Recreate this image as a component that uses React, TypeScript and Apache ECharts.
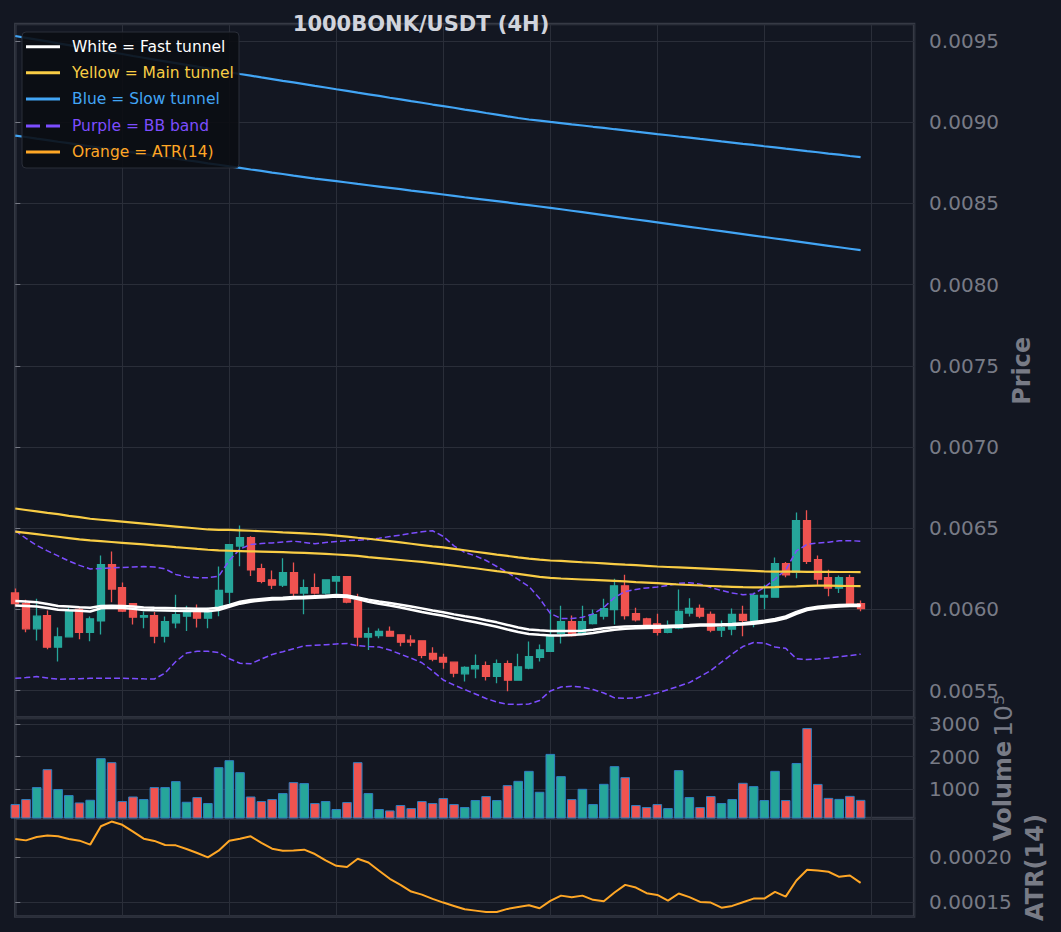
import React, { useEffect, useRef } from "react";
import * as echarts from "echarts";

// ---------- data ----------
const opens = [
  0.006101, 0.006035, 0.00588, 0.005961, 0.005767, 0.005831, 0.005999, 0.005859, 0.00593, 0.006275,
  0.006133, 0.006035, 0.005952, 0.005961, 0.005835, 0.005917, 0.005958, 0.005987, 0.005946, 0.006004,
  0.006106, 0.00639, 0.006441, 0.00625, 0.006182, 0.006149, 0.006226, 0.0061, 0.006133, 0.0061,
  0.006174, 0.006201, 0.006055, 0.005829, 0.005839, 0.005864, 0.005843, 0.00581, 0.005806, 0.005728,
  0.005704, 0.005675, 0.005603, 0.005634, 0.005654, 0.005588, 0.005665, 0.005564, 0.005638, 0.005705,
  0.005742, 0.005853, 0.005924, 0.005853, 0.005913, 0.005958, 0.005998, 0.006145, 0.005973, 0.005942,
  0.005911, 0.005859, 0.005884, 0.005977, 0.006006, 0.005969, 0.005872, 0.005878, 0.005969, 0.005933,
  0.006075, 0.006075, 0.006281, 0.006229, 0.006546, 0.006306, 0.006195, 0.006131, 0.006195, 0.006035,
];
const closes = [
  0.006036, 0.00588, 0.005958, 0.005767, 0.005831, 0.005993, 0.005859, 0.005942, 0.006275, 0.006125,
  0.005989, 0.005952, 0.005962, 0.005835, 0.005924, 0.005967, 0.005987, 0.005946, 0.005987, 0.006116,
  0.006398, 0.006441, 0.006244, 0.006172, 0.006149, 0.006226, 0.0061, 0.006133, 0.0061, 0.006182,
  0.006201, 0.006044, 0.005829, 0.00585, 0.005864, 0.005835, 0.005798, 0.005798, 0.005716, 0.005693,
  0.005675, 0.005607, 0.005642, 0.005654, 0.005588, 0.005665, 0.005564, 0.005646, 0.005708, 0.005751,
  0.005839, 0.005924, 0.005839, 0.005924, 0.005967, 0.006004, 0.006145, 0.005962, 0.005936, 0.005907,
  0.005859, 0.00588, 0.005987, 0.006006, 0.005958, 0.005872, 0.005888, 0.005969, 0.005933, 0.006086,
  0.006086, 0.006281, 0.006213, 0.006546, 0.006295, 0.006186, 0.006131, 0.006195, 0.00603, 0.006004,
];
const highs = [
  0.006129, 0.006059, 0.006065, 0.005993, 0.005888, 0.006012, 0.00601, 0.005956, 0.006332, 0.006357,
  0.006166, 0.006035, 0.005987, 0.005983, 0.005956, 0.00609, 0.006022, 0.00603, 0.00601, 0.006264,
  0.0064, 0.006517, 0.006451, 0.006281, 0.00624, 0.006314, 0.006289, 0.006184, 0.006221, 0.006182,
  0.006207, 0.006201, 0.006096, 0.005888, 0.005882, 0.005895, 0.005845, 0.005841, 0.005808, 0.005767,
  0.005726, 0.005675, 0.00565, 0.005722, 0.005679, 0.005691, 0.005685, 0.005726, 0.005802, 0.005784,
  0.005999, 0.006022, 0.005962, 0.006022, 0.005999, 0.006065, 0.006189, 0.006213, 0.00601, 0.005948,
  0.005973, 0.005932, 0.006123, 0.006069, 0.00603, 0.005987, 0.005932, 0.006006, 0.006022, 0.006102,
  0.006152, 0.00632, 0.006291, 0.006597, 0.00661, 0.006332, 0.006244, 0.006209, 0.006213, 0.006055,
];
const lows = [
  0.006018, 0.005859, 0.005808, 0.005755, 0.005679, 0.005831, 0.005816, 0.005804, 0.005845, 0.006044,
  0.005983, 0.005907, 0.005884, 0.005792, 0.005796, 0.005884, 0.005866, 0.005888, 0.005884, 0.005958,
  0.006035, 0.006266, 0.006205, 0.006161, 0.006125, 0.006137, 0.006075, 0.00597, 0.006092, 0.006092,
  0.006096, 0.006038, 0.005773, 0.005749, 0.005822, 0.005835, 0.005773, 0.005773, 0.005699, 0.005681,
  0.005634, 0.005582, 0.005556, 0.005576, 0.005562, 0.005545, 0.005496, 0.005564, 0.005631, 0.005679,
  0.005742, 0.00579, 0.005833, 0.005853, 0.005907, 0.005938, 0.005907, 0.005938, 0.005925, 0.005895,
  0.005839, 0.005853, 0.005878, 0.005956, 0.005946, 0.005859, 0.005829, 0.005841, 0.005835, 0.00589,
  0.006001, 0.006073, 0.006198, 0.006192, 0.006279, 0.006152, 0.006081, 0.0061, 0.00603, 0.005989,
];
const volumes = [
  538, 692, 1062, 1615, 1000, 815, 588, 671, 1954, 1831,
  631, 772, 692, 1062, 1062, 1246, 609, 754, 569, 1677,
  1892, 1523, 772, 631, 692, 877, 1215, 1185, 569, 631,
  385, 600, 1831, 877, 385, 342, 508, 415, 631, 569,
  723, 538, 446, 662, 785, 662, 1123, 1255, 1563, 917,
  2086, 1400, 692, 1009, 538, 1163, 1708, 1369, 508, 446,
  538, 415, 1585, 754, 446, 785, 569, 692, 1194, 1092,
  662, 1563, 662, 1806, 2883, 1160, 729, 698, 791, 668,
];
const fastUpper = [
  0.006051, 0.006048, 0.006044, 0.006033, 0.006021, 0.006017, 0.006013, 0.00601, 0.006021, 0.006022,
  0.00602, 0.006017, 0.006012, 0.00601, 0.006009, 0.006007, 0.006006, 0.006004, 0.006004, 0.00601,
  0.006027, 0.006047, 0.006058, 0.006064, 0.00607, 0.006072, 0.006076, 0.006078, 0.006081, 0.006084,
  0.006088, 0.006086, 0.006073, 0.00606, 0.006049, 0.006039, 0.006029, 0.006018, 0.006006, 0.005993,
  0.005982, 0.005969, 0.005957, 0.005947, 0.005933, 0.00592, 0.005904, 0.005888, 0.005876, 0.005871,
  0.005867, 0.005866, 0.005866, 0.005869, 0.005874, 0.005884, 0.00589, 0.005895, 0.005896, 0.005897,
  0.005898, 0.005899, 0.005901, 0.005903, 0.005906, 0.005907, 0.005908, 0.00591, 0.005914, 0.005922,
  0.00593, 0.005941, 0.005956, 0.005984, 0.006006, 0.006016, 0.006022, 0.006027, 0.006028, 0.006028,
];
const fastLower = [
  0.006023, 0.006021, 0.006018, 0.006009, 0.005998, 0.005994, 0.005991, 0.005987, 0.006007, 0.00601,
  0.006008, 0.006003, 0.005996, 0.005994, 0.005993, 0.005991, 0.00599, 0.00599, 0.005989, 0.005996,
  0.006015, 0.006035, 0.006047, 0.006055, 0.006061, 0.006063, 0.006067, 0.006069, 0.006071, 0.006075,
  0.006079, 0.006076, 0.006063, 0.006047, 0.006035, 0.006024, 0.006012, 0.005998, 0.005984, 0.005971,
  0.005961, 0.005946, 0.005933, 0.005921, 0.005907, 0.005893, 0.005876, 0.005861, 0.005848, 0.005843,
  0.005839, 0.005839, 0.005842, 0.005847, 0.005855, 0.005865, 0.005874, 0.00588, 0.005884, 0.005885,
  0.005887, 0.00589, 0.005893, 0.005896, 0.0059, 0.005901, 0.005902, 0.005903, 0.005907, 0.005912,
  0.00592, 0.00593, 0.005945, 0.005973, 0.005996, 0.006007, 0.006013, 0.006017, 0.00602, 0.00602,
];
const mainUpper = [
  0.006621, 0.006612, 0.006603, 0.006594, 0.006586, 0.006576, 0.006568, 0.006558, 0.006552, 0.006546,
  0.00654, 0.006534, 0.006528, 0.006522, 0.006516, 0.00651, 0.006504, 0.006498, 0.006492, 0.00649,
  0.006489, 0.006487, 0.006484, 0.006481, 0.006478, 0.006474, 0.006471, 0.006468, 0.006464, 0.00646,
  0.006454, 0.006448, 0.006441, 0.006435, 0.006427, 0.00642, 0.006412, 0.006404, 0.006396, 0.006388,
  0.006382, 0.006373, 0.006364, 0.006355, 0.006346, 0.006337, 0.006329, 0.00632, 0.006312, 0.006306,
  0.006301, 0.006298, 0.006294, 0.00629, 0.006287, 0.006283, 0.006279, 0.006275, 0.006272, 0.006268,
  0.006264, 0.006261, 0.006258, 0.006255, 0.006252, 0.006249, 0.006246, 0.006243, 0.00624, 0.006237,
  0.006234, 0.006233, 0.006232, 0.006232, 0.006231, 0.006231, 0.006231, 0.00623, 0.00623, 0.006229,
];
const mainLower = [
  0.006479, 0.006471, 0.006463, 0.006455, 0.006447, 0.006439, 0.006431, 0.006425, 0.00642, 0.006415,
  0.00641, 0.006405, 0.0064, 0.006394, 0.006389, 0.006383, 0.006378, 0.006372, 0.006367, 0.006363,
  0.006361, 0.006359, 0.006357, 0.006356, 0.006354, 0.006352, 0.00635, 0.006348, 0.006345, 0.006342,
  0.006338, 0.006334, 0.006329, 0.006322, 0.006316, 0.00631, 0.006304, 0.006298, 0.006292, 0.006285,
  0.006277, 0.006269, 0.006261, 0.006253, 0.006244, 0.006235, 0.006227, 0.006218, 0.006209, 0.0062,
  0.006194, 0.00619, 0.006187, 0.006184, 0.006181, 0.006178, 0.006175, 0.006172, 0.006168, 0.006165,
  0.006161, 0.006157, 0.006153, 0.00615, 0.006147, 0.006144, 0.006141, 0.006139, 0.006137, 0.006136,
  0.006136, 0.006137, 0.00614, 0.006142, 0.006145, 0.006146, 0.006146, 0.006145, 0.006144, 0.006143,
];
const slowUpper = [
  0.009531, 0.00952, 0.009509, 0.009498, 0.009486, 0.009475, 0.009464, 0.009453, 0.009442, 0.009431,
  0.00942, 0.009408, 0.009397, 0.009386, 0.009375, 0.009364, 0.009353, 0.009342, 0.009331, 0.009319,
  0.009308, 0.009297, 0.009287, 0.009276, 0.009266, 0.009255, 0.009245, 0.009235, 0.009224, 0.009214,
  0.009203, 0.009193, 0.009182, 0.009172, 0.009162, 0.009151, 0.009141, 0.00913, 0.00912, 0.009109,
  0.009099, 0.009089, 0.009078, 0.009068, 0.009057, 0.009047, 0.009036, 0.009026, 0.009017, 0.00901,
  0.009002, 0.008995, 0.008987, 0.00898, 0.008972, 0.008965, 0.008957, 0.00895, 0.008942, 0.008935,
  0.008927, 0.00892, 0.008912, 0.008905, 0.008897, 0.00889, 0.008882, 0.008875, 0.008867, 0.00886,
  0.008852, 0.008845, 0.008837, 0.00883, 0.008822, 0.008815, 0.008807, 0.0088, 0.008792, 0.008785,
];
const slowLower = [
  0.008918, 0.008909, 0.008899, 0.00889, 0.00888, 0.008871, 0.008861, 0.008852, 0.008842, 0.008833,
  0.008823, 0.008814, 0.008804, 0.008795, 0.008785, 0.008776, 0.008766, 0.008757, 0.008747, 0.008738,
  0.008728, 0.008719, 0.008709, 0.0087, 0.00869, 0.008681, 0.008671, 0.008662, 0.008653, 0.008645,
  0.008637, 0.008629, 0.00862, 0.008612, 0.008604, 0.008596, 0.008588, 0.008579, 0.008571, 0.008563,
  0.008555, 0.008547, 0.008538, 0.00853, 0.008522, 0.008514, 0.008506, 0.008497, 0.008489, 0.008481,
  0.008473, 0.008464, 0.008455, 0.008446, 0.008437, 0.008428, 0.008419, 0.00841, 0.008401, 0.008392,
  0.008383, 0.008374, 0.008365, 0.008356, 0.008347, 0.008338, 0.008329, 0.00832, 0.008311, 0.008302,
  0.008293, 0.008284, 0.008275, 0.008266, 0.008257, 0.008248, 0.008239, 0.00823, 0.008221, 0.008212,
];
const bbUpper = [
  0.006484, 0.006437, 0.006394, 0.00636, 0.006329, 0.006298, 0.006271, 0.006249, 0.006252, 0.006255,
  0.006258, 0.006261, 0.006264, 0.006261, 0.006249, 0.006215, 0.0062, 0.006195, 0.006195, 0.006203,
  0.006301, 0.006372, 0.006399, 0.006406, 0.006409, 0.006415, 0.00642, 0.006412, 0.006404, 0.006412,
  0.006418, 0.006423, 0.006426, 0.00643, 0.006438, 0.006448, 0.006457, 0.006468, 0.006478, 0.006484,
  0.006449, 0.006391, 0.006351, 0.006329, 0.006301, 0.006264, 0.006227, 0.006184, 0.006141, 0.006067,
  0.005975, 0.005944, 0.005944, 0.005951, 0.005972, 0.006012, 0.006073, 0.00611, 0.006123, 0.006132,
  0.006138, 0.006147, 0.00616, 0.006164, 0.006155, 0.006135, 0.006116, 0.006101, 0.00609, 0.006095,
  0.006135, 0.006187, 0.006243, 0.00636, 0.0064, 0.006409, 0.006414, 0.006422, 0.006423, 0.00642,
];
const bbLower = [
  0.005575, 0.00558, 0.005586, 0.005577, 0.00557, 0.005571, 0.005573, 0.005575, 0.005576, 0.005576,
  0.005576, 0.005574, 0.005572, 0.005571, 0.005608, 0.005679, 0.005731, 0.005742, 0.005742, 0.005734,
  0.005696, 0.005668, 0.005665, 0.005694, 0.005722, 0.005739, 0.005757, 0.005775, 0.005779, 0.005782,
  0.005787, 0.00579, 0.005776, 0.005771, 0.005768, 0.00575, 0.005724, 0.005699, 0.005671, 0.00562,
  0.005565, 0.005534, 0.005506, 0.005479, 0.005451, 0.005429, 0.005416, 0.005414, 0.005417, 0.005439,
  0.005497, 0.005522, 0.005526, 0.005521, 0.005506, 0.005485, 0.005455, 0.005453, 0.005454, 0.005469,
  0.005485, 0.005505, 0.005527, 0.005549, 0.005586, 0.005623, 0.005675, 0.005725, 0.005771, 0.005796,
  0.005793, 0.005768, 0.00576, 0.005696, 0.005691, 0.005694, 0.0057, 0.005708, 0.005716, 0.005724,
];
const atr14 = [
  0.00022, 0.0002184, 0.0002222, 0.0002237, 0.0002229, 0.00022, 0.0002181, 0.0002137, 0.000234, 0.0002392,
  0.0002356, 0.0002281, 0.0002203, 0.0002178, 0.0002133, 0.0002129, 0.0002089, 0.0002044, 0.0001996, 0.000207,
  0.0002181, 0.0002203, 0.0002229, 0.0002156, 0.0002092, 0.000207, 0.0002073, 0.0002081, 0.0002033, 0.0001962,
  0.0001903, 0.0001889, 0.0001981, 0.000194, 0.0001848, 0.0001759, 0.0001692, 0.0001618, 0.0001584, 0.0001537,
  0.0001496, 0.0001459, 0.0001422, 0.0001407, 0.0001392, 0.0001392, 0.0001426, 0.0001448, 0.0001467, 0.0001433,
  0.0001514, 0.0001573, 0.0001556, 0.0001573, 0.0001526, 0.0001511, 0.0001607, 0.0001692, 0.0001662, 0.00016,
  0.0001581, 0.0001518, 0.0001596, 0.0001556, 0.0001503, 0.0001496, 0.000144, 0.0001459, 0.00015, 0.000154,
  0.000154, 0.0001614, 0.0001562, 0.000174, 0.0001859, 0.0001851, 0.0001837, 0.0001781, 0.0001796, 0.0001714,
];

const TITLE = "1000BONK/USDT (4H)";
const legendLabels = [
  "White = Fast tunnel",
  "Yellow = Main tunnel",
  "Blue = Slow tunnel",
  "Purple = BB band",
  "Orange = ATR(14)",
];

// ---------- styling ----------
const FONT = "DejaVu Sans";
const BG = "#131722";
const FRAME = "#363a45";
const GRIDLINE = "#2a2e39";
const AXIS_TXT = "#787b86";
const UP = "#26a69a";
const DOWN = "#ef5350";
const WHITE = "#ffffff";
const YELLOW = "#f9cd45";
const BLUE = "#42a5f5";
const PURPLE = "#7c4dff";
const ORANGE = "#ffa726";
const legendColors = [WHITE, YELLOW, BLUE, PURPLE, ORANGE];

const GRID_LEFT = 15.3;
const GRID_W = 898.8;

export default function App() {
  const ref = useRef<HTMLDivElement>(null);

  useEffect(() => {
    document.body.style.margin = "0";
    document.body.style.background = BG;
    const chart = echarts.init(ref.current as HTMLDivElement, null, { renderer: "svg" });

    const idx = (arr: number[]) => arr.map((v, i) => [i, v]);

    const xAxisBase = (gridIndex: number) => ({
      type: "value",
      gridIndex,
      min: 0,
      max: 84,
      interval: 10,
      axisLine: { show: false },
      axisTick: { show: false },
      axisLabel: { show: false },
      splitLine: { show: true, lineStyle: { color: GRIDLINE, width: 1 } },
    });

    const yAxisBase = (gridIndex: number, min: number, max: number, splitNumber: number, fmt: (v: number) => string) => ({
      type: "value",
      gridIndex,
      position: "right",
      min,
      max,
      splitNumber,
      axisLine: { show: false },
      axisTick: { show: true, length: 5, lineStyle: { color: AXIS_TXT, width: 1 } },
      axisLabel: {
        show: true,
        margin: 15,
        color: AXIS_TXT,
        fontSize: 20,
        fontFamily: FONT,
        showMinLabel: false,
        showMaxLabel: false,
        formatter: fmt,
      },
      splitLine: { show: true, lineStyle: { color: GRIDLINE, width: 1 } },
      nameLocation: "middle",
      nameRotate: 90,
    });

    const lineSeries = (data: number[], color: string, width: number, dashed = false, xi = 0, yi = 0) => ({
      type: "line",
      xAxisIndex: xi,
      yAxisIndex: yi,
      data: idx(data),
      showSymbol: false,
      symbol: "none",
      smooth: false,
      lineStyle: { color, width, type: dashed ? [6, 3] : "solid" },
      silent: true,
      z: 3,
    });

    const candleData = opens.map((o, i) => [i, o, closes[i], lows[i], highs[i]]);
    const volData = volumes.map((v, i) => ({
      value: [i, v],
      itemStyle: { color: closes[i] >= opens[i] ? UP : DOWN },
    }));

    const LZ = 120;
    const rowY = [14.7, 40.7, 67, 94, 120];
    const legendChildren: any[] = [
      {
        type: "rect",
        z: LZ,
        shape: { x: 0, y: 0, width: 217, height: 136, r: 4 },
        style: { fill: "rgba(11,13,19,0.9)", stroke: "#2a2e39", lineWidth: 1 },
      },
    ];
    legendLabels.forEach((label, k) => {
      legendChildren.push({
        type: "line",
        z: LZ + 1,
        shape: { x1: 4, y1: rowY[k], x2: 38, y2: rowY[k] },
        style: {
          stroke: legendColors[k],
          lineWidth: 3,
          lineDash: k === 3 ? [14, 6] : null,
        },
      });
      legendChildren.push({
        type: "text",
        z: LZ + 1,
        x: 50,
        y: rowY[k],
        style: {
          text: label,
          fill: legendColors[k],
          font: `15.5px "${FONT}"`,
          align: "left",
          verticalAlign: "middle",
          textAlign: "left",
          textVerticalAlign: "middle",
        },
      });
    });

    const option: any = {
      animation: false,
      backgroundColor: BG,
      grid: [
        { left: GRID_LEFT, top: 24, width: GRID_W, height: 693.5, show: true, borderColor: FRAME, borderWidth: 2.5, backgroundColor: "transparent" },
        { left: GRID_LEFT, top: 718, width: GRID_W, height: 100, show: true, borderColor: FRAME, borderWidth: 2.5, backgroundColor: "transparent" },
        { left: GRID_LEFT, top: 818.5, width: GRID_W, height: 98, show: true, borderColor: FRAME, borderWidth: 2.5, backgroundColor: "transparent" },
      ],
      xAxis: [xAxisBase(0), xAxisBase(1), xAxisBase(2)],
      yAxis: [
        {
          ...yAxisBase(0, 0.005334, 0.009605, 8, (v: number) => v.toFixed(4)),
          name: "Price",
          nameGap: 94,
          nameTextStyle: { color: AXIS_TXT, fontSize: 24, fontWeight: "bold", fontFamily: FONT },
        },
        {
          ...yAxisBase(1, 108, 3194, 3, (v: number) => String(Math.round(v))),
          name: "{b|Volume} {r|10⁵}",
          nameGap: 73,
          nameTextStyle: {
            color: AXIS_TXT,
            fontFamily: FONT,
            rich: {
              b: { color: AXIS_TXT, fontSize: 24, fontWeight: "bold", fontFamily: FONT },
              r: { color: AXIS_TXT, fontSize: 25, fontFamily: FONT },
            },
          },
        },
        {
          ...yAxisBase(2, 0.0001342, 0.0002426, 2, (v: number) => v.toFixed(5)),
          name: "ATR(14)",
          nameGap: 107,
          nameTextStyle: { color: AXIS_TXT, fontSize: 24, fontWeight: "bold", fontFamily: FONT },
        },
      ],
      series: [
        {
          type: "candlestick",
          xAxisIndex: 0,
          yAxisIndex: 0,
          data: candleData,
          barWidth: 7.5,
          itemStyle: {
            color: UP,
            color0: DOWN,
            borderColor: UP,
            borderColor0: DOWN,
            borderWidth: 1.3,
          },
          z: 2,
        },
        lineSeries(bbUpper, PURPLE, 1.5, true),
        lineSeries(bbLower, PURPLE, 1.5, true),
        lineSeries(slowUpper, BLUE, 2.2),
        lineSeries(slowLower, BLUE, 2.2),
        lineSeries(mainUpper, YELLOW, 2.2),
        lineSeries(mainLower, YELLOW, 2.2),
        lineSeries(fastUpper, WHITE, 2.5),
        lineSeries(fastLower, WHITE, 2.5),
        {
          type: "bar",
          xAxisIndex: 1,
          yAxisIndex: 1,
          data: volData,
          barWidth: 9.6,
          itemStyle: { borderColor: "#2f7fc1", borderWidth: 1 },
          silent: true,
        },
        lineSeries(atr14, ORANGE, 2, false, 2, 2),
      ],
      graphic: [
        {
          type: "text",
          x: 421,
          y: 24,
          z: LZ,
          style: {
            text: TITLE,
            fill: "#d1d4dc",
            font: `bold 21px "${FONT}"`,
            align: "center",
            verticalAlign: "middle",
            textAlign: "center",
            textVerticalAlign: "middle",
          },
        },
        { type: "group", x: 22, y: 32, z: LZ, children: legendChildren },
      ],
    };

    chart.setOption(option);
    return () => chart.dispose();
  }, []);

  return <div ref={ref} style={{ width: 1061, height: 932, background: BG }} />;
}
